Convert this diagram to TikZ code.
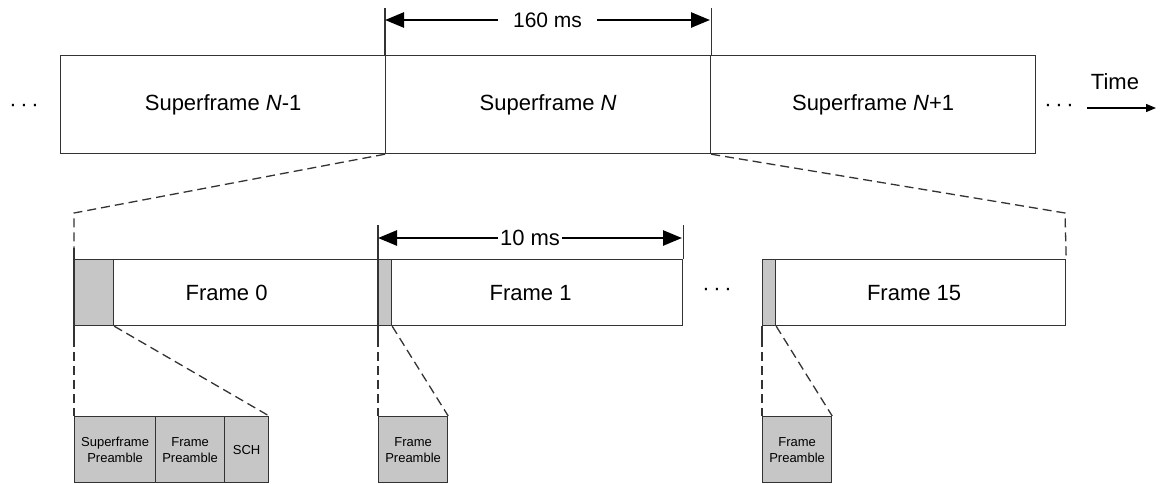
\documentclass[tikz,border=0pt]{standalone}
\usepackage{fontspec}
\setmainfont{Liberation Sans}
\usetikzlibrary{arrows.meta,calc}
\definecolor{boxgray}{HTML}{C6C6C6}
\definecolor{linegray}{HTML}{333333}
\begin{document}
\begin{tikzpicture}[x=1pt,y=-1pt,
  bigfont/.style={font=\fontsize{22}{26}\selectfont},
  sfbox/.style={draw=linegray, line width=1.2pt, minimum width=325pt, minimum height=98pt, inner sep=0pt, anchor=north west, bigfont},
  frbox/.style={draw=linegray, line width=1.2pt, minimum height=66pt, inner sep=0pt, anchor=north west, bigfont},
  graybox/.style={draw=linegray, fill=boxgray, line width=1.2pt, minimum height=66pt, inner sep=0pt, anchor=north west},
  smallbox/.style={draw=linegray, fill=boxgray, line width=1.2pt, minimum height=66pt, inner sep=0pt, anchor=north west, align=center, font=\fontsize{13}{16}\selectfont},
  tick/.style={draw=linegray, line width=1.2pt},
  dashline/.style={draw=linegray, line width=1.3pt, dash pattern=on 9pt off 5pt},
  dimarrow/.style={line width=2.6pt, {Triangle[length=19pt,width=15pt]}-{Triangle[length=19pt,width=15pt]}},
  dotsnode/.style={inner sep=0pt, bigfont}
]
\useasboundingbox (0,0) rectangle (1164,483);

% superframes
\node[sfbox] (sfA) at (60,55) {Superframe \textit{N}-1};
\node[sfbox] (sfN) at (385,55) {Superframe \textit{N}};
\node[sfbox] (sfB) at (710,55) {Superframe \textit{N}+1};

\node[dotsnode] (dl) at (24,108) {·\,·\,·};
\node[dotsnode] (dr) at (1059,108) {·\,·\,·};
\coordinate (ta) at (1087,108);
\coordinate (tb) at (1156,108);
\draw[line width=1.2pt, -{Triangle[length=10pt,width=8pt]}] (ta) -- (tb);
\node[bigfont, inner sep=0pt] (time) at (1115,82) {Time};

% 160 ms dimension
\draw[tick] (sfN.north west) -- ++(0,-47) coordinate (u1);
\draw[tick] (sfN.north east) -- ++(0,-47) coordinate (u2);
\coordinate (d1) at (385,20);
\coordinate (d2) at (710,20);
\draw[dimarrow] (d1) -- node[fill=white, inner xsep=15pt, inner ysep=2pt, font=\fontsize{21}{24}\selectfont] (lab160) {160 ms} (d2);

% frames
\node[frbox, minimum width=304pt] (fr0) at (74,259) {Frame 0};
\node[graybox, minimum width=39pt] (gp0) at (74,259) {};
\node[frbox, minimum width=304pt] (fr1) at (378,259) {Frame 1};
\node[graybox, minimum width=13pt] (gp1) at (378,259) {};
\node[frbox, minimum width=303pt] (fr15) at (762,259) {Frame 15};
\node[graybox, minimum width=13pt] (gp15) at (762,259) {};
\node[dotsnode] (dm) at (717,292) {·\,·\,·};

% ticks on frames
\draw[tick] ($(gp0.north west)+(0,-11)$) coordinate (t0a) -- ($(gp0.south west)+(0,12)$) coordinate (t0b);
\draw[tick] ($(gp1.north west)+(0,-34)$) coordinate (t1a) -- ($(gp1.south west)+(0,12)$) coordinate (t1b);
\draw[tick] (fr1.north east) -- ++(0,-34) coordinate (t2a);
\draw[tick] (gp15.south west) -- ++(0,12) coordinate (t15b);

% 10 ms dimension
\coordinate (e1) at (378,238);
\coordinate (e2) at (682,238);
\draw[dimarrow] (e1) -- node[fill=white, inner xsep=2pt, inner ysep=1pt, bigfont] (lab10) {10 ms} (e2);

% zoom lines superframe -> frames
\coordinate (k1) at (74,213);
\coordinate (k2) at (1065,213);
\draw[dashline] (sfN.south west) -- (k1) -- (t0a);
\draw[dashline] (sfN.south east) -- (k2) -- (fr15.north east);

% bottom boxes
\node[smallbox, minimum width=81pt] (sp) at (74,416) {Superframe\\Preamble};
\node[smallbox, minimum width=69pt] (fpa) at (155,416) {Frame\\Preamble};
\node[smallbox, minimum width=44pt] (sch) at (224,416) {SCH};
\node[smallbox, minimum width=69pt] (fpb) at (378,416) {Frame\\Preamble};
\node[smallbox, minimum width=69pt] (fpc) at (762,416) {Frame\\Preamble};

\draw[dashline] (t0b) -- (sp.north west);
\draw[dashline] (gp0.south east) -- (sch.north east);
\draw[dashline] (t1b) -- (fpb.north west);
\draw[dashline] (gp1.south east) -- (fpb.north east);
\draw[dashline] (t15b) -- (fpc.north west);
\draw[dashline] (gp15.south east) -- (fpc.north east);
\end{tikzpicture}
\end{document}
